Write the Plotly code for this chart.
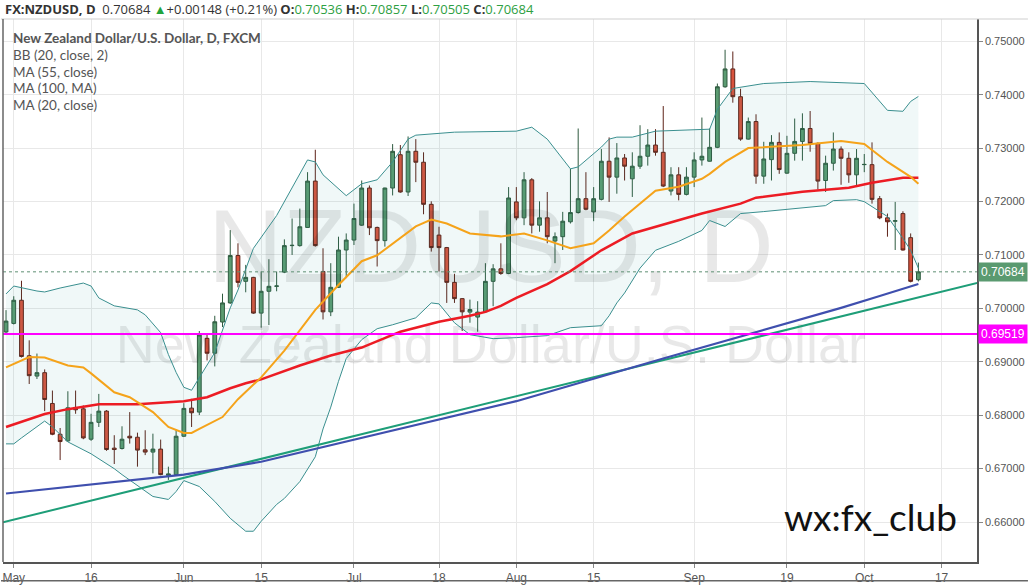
import numpy as np
import pandas as pd
import plotly.graph_objects as go

# ---------------- data ----------------
DATES = pd.bdate_range("2016-04-29", "2016-10-12")

OPEN = [0.69558, 0.69718, 0.70152, 0.69112, 0.68732, 0.68796, 0.68219, 0.67643, 0.67519, 0.68145,
        0.68119, 0.67550, 0.67866, 0.68076, 0.67383, 0.67376, 0.67606, 0.67587, 0.67351, 0.67309,
        0.67365, 0.66874, 0.66887, 0.67606, 0.68132, 0.68058, 0.69439, 0.69160, 0.69744, 0.70102,
        0.70989, 0.70506, 0.70580, 0.69911, 0.70320, 0.70413, 0.70678, 0.71175, 0.71175, 0.71515,
        0.72383, 0.70691, 0.69935, 0.70394, 0.71093, 0.71279, 0.71558, 0.72253, 0.71515, 0.71268,
        0.72253, 0.72877, 0.72179, 0.72941, 0.72736, 0.71948, 0.71372, 0.71138, 0.70487, 0.70182,
        0.69930, 0.69837, 0.69935, 0.70506, 0.70740, 0.70654, 0.71993, 0.71695, 0.72407, 0.71558,
        0.71695, 0.71260, 0.71342, 0.71621, 0.71794, 0.72054, 0.71807, 0.72041, 0.72755, 0.72457,
        0.72816, 0.72426, 0.72662, 0.72848, 0.73058, 0.72922, 0.72197, 0.72500, 0.72134, 0.72457,
        0.72779, 0.72755, 0.73015, 0.74149, 0.74483, 0.73963, 0.73169, 0.73498, 0.72476, 0.72785,
        0.73108, 0.72532, 0.72903, 0.73126, 0.73368, 0.73089, 0.72394, 0.72717, 0.72983, 0.72810,
        0.72500, 0.72691, 0.72691, 0.72054, 0.71695, 0.71632, 0.71775, 0.71324, 0.70536]
HIGH = [0.69967, 0.70227, 0.70517, 0.69402, 0.69154, 0.68857, 0.68461, 0.67760, 0.68448, 0.68461,
        0.68182, 0.68026, 0.68398, 0.68095, 0.67625, 0.67792, 0.68058, 0.67673, 0.67718, 0.67654,
        0.67543, 0.67036, 0.67729, 0.68225, 0.68305, 0.69576, 0.69508, 0.69861, 0.70275, 0.71465,
        0.71218, 0.70814, 0.70590, 0.70691, 0.70920, 0.70691, 0.71292, 0.71682, 0.71868, 0.72550,
        0.72970, 0.71125, 0.70846, 0.71342, 0.71403, 0.71961, 0.72394, 0.72301, 0.71530, 0.72260,
        0.73076, 0.73058, 0.73219, 0.73169, 0.72922, 0.72004, 0.71528, 0.71150, 0.70647, 0.70190,
        0.70164, 0.70134, 0.70846, 0.70827, 0.71218, 0.72271, 0.72271, 0.72550, 0.72439, 0.72004,
        0.72179, 0.71422, 0.71807, 0.72612, 0.73368, 0.72550, 0.72271, 0.72983, 0.73201, 0.73095,
        0.72890, 0.72922, 0.73429, 0.73355, 0.73355, 0.73788, 0.72643, 0.72643, 0.72643, 0.72922,
        0.73573, 0.73368, 0.74210, 0.74842, 0.74810, 0.74112, 0.73573, 0.73634, 0.73119, 0.73244,
        0.73294, 0.73231, 0.73554, 0.73652, 0.73695, 0.73108, 0.72859, 0.73294, 0.73033, 0.72922,
        0.72983, 0.72890, 0.73108, 0.72104, 0.71775, 0.71993, 0.71818, 0.71403, 0.70857]
LOW = [0.69513, 0.69699, 0.69080, 0.68584, 0.68677, 0.68076, 0.67625, 0.67160, 0.67500, 0.68026,
       0.67550, 0.67519, 0.67779, 0.67333, 0.67086, 0.67357, 0.67468, 0.67036, 0.67253, 0.66911,
       0.66874, 0.66788, 0.66874, 0.67593, 0.67779, 0.68002, 0.69024, 0.68913, 0.69650, 0.70084,
       0.70394, 0.70301, 0.69898, 0.69638, 0.69688, 0.70320, 0.70660, 0.71000, 0.71156, 0.71510,
       0.71156, 0.69792, 0.69855, 0.70381, 0.70567, 0.71186, 0.71546, 0.71372, 0.70784, 0.71156,
       0.72115, 0.72166, 0.72104, 0.72364, 0.71762, 0.71063, 0.70691, 0.70102, 0.70102, 0.69576,
       0.69731, 0.69563, 0.69917, 0.70041, 0.70628, 0.70640, 0.71651, 0.71558, 0.71403, 0.71435,
       0.71218, 0.70846, 0.71093, 0.71589, 0.71775, 0.71837, 0.71632, 0.72022, 0.71993, 0.72147,
       0.72394, 0.72086, 0.72612, 0.72673, 0.72859, 0.72271, 0.72115, 0.72022, 0.72115, 0.72271,
       0.72673, 0.72749, 0.73000, 0.74130, 0.73851, 0.73138, 0.73160, 0.72333, 0.72333, 0.72394,
       0.72519, 0.72519, 0.72766, 0.72766, 0.72933, 0.72227, 0.72179, 0.72580, 0.72314, 0.72351,
       0.72301, 0.72550, 0.71961, 0.71669, 0.71342, 0.71093, 0.71082, 0.70487, 0.70505]
CLOSE = [0.69762, 0.70152, 0.69099, 0.68740, 0.68796, 0.68294, 0.67643, 0.67506, 0.68138, 0.68101,
         0.67574, 0.67866, 0.68076, 0.67357, 0.67357, 0.67550, 0.67574, 0.67346, 0.67309, 0.67365,
         0.66887, 0.66900, 0.67606, 0.68127, 0.68045, 0.69502, 0.69160, 0.69749, 0.70102, 0.70989,
         0.70487, 0.70580, 0.69911, 0.70320, 0.70413, 0.70419, 0.71175, 0.71180, 0.71528, 0.72383,
         0.71175, 0.69935, 0.70394, 0.71093, 0.71279, 0.71682, 0.72253, 0.71509, 0.71268, 0.72253,
         0.72941, 0.72179, 0.72941, 0.72736, 0.71948, 0.71138, 0.71138, 0.70487, 0.70182, 0.69935,
         0.69978, 0.69930, 0.70506, 0.70740, 0.70654, 0.72067, 0.71695, 0.72407, 0.71558, 0.71695,
         0.71342, 0.71342, 0.71632, 0.71794, 0.72054, 0.71855, 0.72054, 0.72755, 0.72457, 0.72816,
         0.72662, 0.72662, 0.72848, 0.73058, 0.72922, 0.72290, 0.72500, 0.72134, 0.72457, 0.72779,
         0.72848, 0.73015, 0.74149, 0.74483, 0.73963, 0.73169, 0.73498, 0.72476, 0.72797, 0.73108,
         0.72599, 0.72903, 0.73126, 0.73368, 0.73089, 0.72383, 0.72717, 0.72983, 0.72810, 0.72500,
         0.72810, 0.72695, 0.72041, 0.71695, 0.71621, 0.71640, 0.71093, 0.70506, 0.70684]

# indicator lines, read at bar indices
MA20_IDX = [0, 3, 5, 8, 10, 11, 14, 16, 19, 21, 23, 24, 25, 28, 30, 33, 36, 40, 43, 46, 48, 51, 53, 55,
            57, 60, 64, 67, 70, 73, 76, 78, 80, 84, 87, 90, 91, 93, 96, 103, 108, 111, 114, 117, 118]
MA20_VAL = [0.68894, 0.69089, 0.69080, 0.68931, 0.68894, 0.68783, 0.68429, 0.68337, 0.68058, 0.67779,
            0.67667, 0.67667, 0.67742, 0.67965, 0.68299, 0.68708, 0.69210, 0.69972, 0.70437, 0.70883,
            0.70994, 0.71310, 0.71534, 0.71664, 0.71589, 0.71403, 0.71348, 0.71403, 0.71273, 0.71125,
            0.71218, 0.71459, 0.71719, 0.72203, 0.72277, 0.72426, 0.72519, 0.72742, 0.73002, 0.73058,
            0.73132, 0.73076, 0.72742, 0.72463, 0.72333]

MA55_IDX = [0, 5, 8, 12, 17, 19, 23, 26, 29, 31, 33, 38, 42, 46, 51, 56, 60, 62, 64, 66, 70, 73, 77,
            81, 86, 90, 95, 97, 103, 109, 112, 116, 118]
MA55_VAL = [0.67779, 0.68021, 0.68113, 0.68206, 0.68206, 0.68225, 0.68262, 0.68337, 0.68504, 0.68597,
            0.68671, 0.68931, 0.69117, 0.69266, 0.69563, 0.69749, 0.69861, 0.69935, 0.70047, 0.70195,
            0.70455, 0.70697, 0.71087, 0.71403, 0.71608, 0.71775, 0.71961, 0.72072, 0.72184, 0.72258,
            0.72351, 0.72444, 0.72444]

MA100_IDX = [0, 12, 23, 33, 50, 66, 85, 96, 108, 113, 118]
MA100_VAL = [0.66534, 0.66720, 0.66887, 0.67128, 0.67705, 0.68262, 0.69062, 0.69508, 0.70009, 0.70232,
             0.70455]

BBU_IDX = [0, 1, 4, 5, 7, 10, 11, 12, 14, 17, 18, 20, 21, 22, 23, 24, 27, 29, 30, 32, 35, 39, 40, 41,
           44, 46, 48, 50, 52, 53, 58, 66, 68, 70, 73, 74, 77, 78, 79, 81, 84, 91, 92, 94, 98, 104,
           111, 112, 114, 116, 117, 118]
BBU_VAL = [0.70270, 0.70418, 0.70325, 0.70307, 0.70381, 0.70474, 0.70418, 0.70195, 0.70047, 0.69972,
           0.69879, 0.69545, 0.69136, 0.68801, 0.68522, 0.68467, 0.69173, 0.70009, 0.70344, 0.71125,
           0.71738, 0.72779, 0.72742, 0.72500, 0.72110, 0.72333, 0.72407, 0.72742, 0.73169, 0.73243,
           0.73299, 0.73318, 0.73392, 0.73169, 0.72612, 0.72649, 0.73020, 0.73169, 0.73206, 0.73206,
           0.73318, 0.73355, 0.73727, 0.74117, 0.74210, 0.74247, 0.74210, 0.74043, 0.73708, 0.73690,
           0.73875, 0.73968]

BBL_IDX = [0, 1, 2, 4, 5, 6, 8, 11, 12, 14, 15, 17, 19, 21, 22, 23, 25, 27, 29, 31, 32, 33, 35, 36,
           38, 40, 41, 42, 43, 44, 46, 48, 50, 53, 55, 56, 58, 60, 63, 66, 69, 70, 73, 77, 78, 79,
           80, 82, 84, 87, 90, 91, 93, 95, 98, 104, 106, 107, 110, 111, 112, 114, 116, 117, 118]
BBL_VAL = [0.67463, 0.67463, 0.67574, 0.67779, 0.67890, 0.67779, 0.67500, 0.67277, 0.67184, 0.66998,
           0.66887, 0.66682, 0.66478, 0.66422, 0.66571, 0.66775, 0.66664, 0.66385, 0.66069, 0.65827,
           0.65827, 0.66013, 0.66329, 0.66441, 0.66757, 0.67221, 0.67742, 0.68151, 0.68634, 0.69061,
           0.69414, 0.69619, 0.69693, 0.69823, 0.70102, 0.70084, 0.69730, 0.69507, 0.69433, 0.69452,
           0.69489, 0.69489, 0.69638, 0.69675, 0.69861, 0.70102, 0.70288, 0.70753, 0.71087, 0.71255,
           0.71459, 0.71645, 0.71533, 0.71775, 0.71812, 0.71887, 0.71924, 0.72017, 0.72035, 0.71998,
           0.71905, 0.71719, 0.71310, 0.71087, 0.70753]

TREND_IDX = [-0.4, 125.6]
TREND_VAL = [0.65995, 0.70474]
HLINE_LEVEL = 0.69519
LAST_PRICE = 0.70684

TICK_DATES = ["2016-05-02", "2016-05-16", "2016-06-01", "2016-06-15", "2016-07-01", "2016-07-18",
              "2016-08-01", "2016-08-15", "2016-09-01", "2016-09-19", "2016-10-03", "2016-10-17"]
TICK_LABELS = ["May", "16", "Jun", "15", "Jul", "18", "Aug", "15", "Sep", "19", "Oct", "17"]
Y_TICKS = [0.66, 0.67, 0.68, 0.69, 0.70, 0.71, 0.72, 0.73, 0.74, 0.75]

# ---------------- figure ----------------
X = list(range(len(DATES)))
tickvals = [int(np.busday_count("2016-04-29", d)) for d in TICK_DATES]

W, H = 1028, 587
ML, MR, MT, MB = 2, 51, 19, 21
PW, PH = W - ML - MR, H - MT - MB


def px_x(p):
    return (p - ML) / PW


def px_y(p):
    return (H - MB - p) / PH


fig = go.Figure()

# watermark (behind everything)
fig.add_trace(go.Scatter(x=[62.7], y=[0.7098], mode="text", text=["NZDUSD, D"],
                         textfont=dict(size=104, color="rgba(0,0,0,0.09)", family="Liberation Sans"),
                         hoverinfo="skip", showlegend=False))
fig.add_trace(go.Scatter(x=[62.7], y=[0.6923], mode="text", text=["New Zealand Dollar/U.S. Dollar"],
                         textfont=dict(size=54, color="rgba(0,0,0,0.09)", family="Liberation Sans"),
                         hoverinfo="skip", showlegend=False))

# Bollinger bands
fig.add_trace(go.Scatter(x=BBU_IDX, y=BBU_VAL, mode="lines", line=dict(color="#3a8f8f", width=1),
                         hoverinfo="skip", showlegend=False))
fig.add_trace(go.Scatter(x=BBL_IDX, y=BBL_VAL, mode="lines", line=dict(color="#3a8f8f", width=1),
                         fill="tonexty", fillcolor="rgba(40,150,150,0.07)",
                         hoverinfo="skip", showlegend=False))

# trend line and MA100
fig.add_trace(go.Scatter(x=TREND_IDX, y=TREND_VAL, mode="lines", line=dict(color="#1e9e78", width=2),
                         hoverinfo="skip", showlegend=False))
fig.add_trace(go.Scatter(x=MA100_IDX, y=MA100_VAL, mode="lines", line=dict(color="#3f4fae", width=2.2),
                         hoverinfo="skip", showlegend=False))
fig.add_trace(go.Scatter(x=MA55_IDX, y=MA55_VAL, mode="lines", line=dict(color="#ec1c24", width=2.5),
                         hoverinfo="skip", showlegend=False))
fig.add_trace(go.Scatter(x=MA20_IDX, y=MA20_VAL, mode="lines", line=dict(color="#f5a31a", width=2),
                         hoverinfo="skip", showlegend=False))

# candles
fig.add_trace(go.Candlestick(
    x=X, open=OPEN, high=HIGH, low=LOW, close=CLOSE,
    increasing=dict(line=dict(color="#2f5a3f", width=1), fillcolor="#5b9b71"),
    decreasing=dict(line=dict(color="#5e2218", width=1), fillcolor="#d9533d"),
    whiskerwidth=0, hoverinfo="skip", showlegend=False))

shapes = [
    dict(type="line", xref="paper", yref="y", x0=0, x1=1, y0=HLINE_LEVEL, y1=HLINE_LEVEL,
         line=dict(color="#ff00ff", width=2)),
    dict(type="line", xref="paper", yref="y", x0=0, x1=1, y0=LAST_PRICE, y1=LAST_PRICE,
         line=dict(color="#5f8f74", width=1, dash="dot")),
    dict(type="line", xref="paper", yref="paper", x0=px_x(0), x1=px_x(W), y0=1, y1=1,
         line=dict(color="#cfcfcf", width=1)),
    dict(type="line", xref="paper", yref="paper", x0=px_x(0), x1=px_x(W), y0=px_y(585), y1=px_y(585),
         line=dict(color="#666", width=1.5)),
    dict(type="line", xref="paper", yref="paper", x0=0, x1=0, y0=0, y1=1,
         line=dict(color="#666", width=1.5)),
]

header = ("<b>FX:NZDUSD, D</b>  0.70684 <span style='color:#22a33a'>▲</span>+0.00148 (+0.21%) "
          "<b>O:</b><span style='color:#2ea043'>0.70536</span> "
          "<b>H:</b><span style='color:#2ea043'>0.70857</span> "
          "<b>L:</b><span style='color:#2ea043'>0.70505</span> "
          "<b>C:</b><span style='color:#2ea043'>0.70684</span>")

annotations = [
    dict(text=header, xref="paper", yref="paper", x=px_x(2), y=px_y(9), xanchor="left", yanchor="middle",
         showarrow=False, font=dict(family="Open Sans", size=13, color="#333")),
    dict(text="<b>New Zealand Dollar/U.S. Dollar, D, FXCM</b>", xref="paper", yref="paper",
         x=px_x(10), y=px_y(38), xanchor="left", yanchor="middle", showarrow=False,
         font=dict(family="Lato", size=13.5, color="#555")),
]
for lab, yy in [("BB (20, close, 2)", 55), ("MA (55, close)", 72), ("MA (100, MA)", 89),
                ("MA (20, close)", 106)]:
    annotations.append(dict(text=lab, xref="paper", yref="paper", x=px_x(10), y=px_y(yy),
                            xanchor="left", yanchor="middle", showarrow=False,
                            font=dict(family="Lato", size=13.5, color="#555")))
annotations += [
    dict(text="0.70684", xref="paper", yref="y", x=1, y=LAST_PRICE, xanchor="left", yanchor="middle",
         xshift=1, showarrow=False, bgcolor="#5a9a70", borderpad=2,
         font=dict(family="Liberation Sans", size=12, color="white")),
    dict(text="0.69519", xref="paper", yref="y", x=1, y=HLINE_LEVEL, xanchor="left", yanchor="middle",
         xshift=1, showarrow=False, bgcolor="#ff00ff", borderpad=2,
         font=dict(family="Liberation Sans", size=12, color="white")),
    dict(text="wx:fx_club", xref="paper", yref="paper", x=px_x(870), y=px_y(520),
         xanchor="center", yanchor="middle", showarrow=False,
         font=dict(family="Lato", size=37, color="#111")),
]

fig.update_layout(
    width=W, height=H, margin=dict(l=ML, r=MR, t=MT, b=MB, pad=0),
    paper_bgcolor="white", plot_bgcolor="white",
    showlegend=False, shapes=shapes, annotations=annotations,
    xaxis=dict(range=[-0.39, 125.58], tickmode="array", tickvals=tickvals, ticktext=TICK_LABELS,
               showgrid=True, gridcolor="#e8e8e8", gridwidth=1, zeroline=False,
               showline=True, linecolor="#555", linewidth=1.5, ticks="outside", ticklen=4,
               tickcolor="#888", rangeslider=dict(visible=False),
               tickfont=dict(family="Liberation Sans Narrow, Liberation Sans", size=12, color="#555")),
    yaxis=dict(range=[0.65251, 0.75418], side="right", tickmode="array", tickvals=Y_TICKS,
               ticktext=[f"{v:.5f}" for v in Y_TICKS], showgrid=True, gridcolor="#e8e8e8",
               zeroline=False, showline=True, linecolor="#555", linewidth=1.5, ticks="outside",
               ticklen=4, tickcolor="#888",
               tickfont=dict(family="Liberation Sans", size=11, color="#555")),
)

fig.write_html("out.html", config={"displayModeBar": False},
               post_script="document.body.style.margin='0';document.body.style.overflow='hidden';")
